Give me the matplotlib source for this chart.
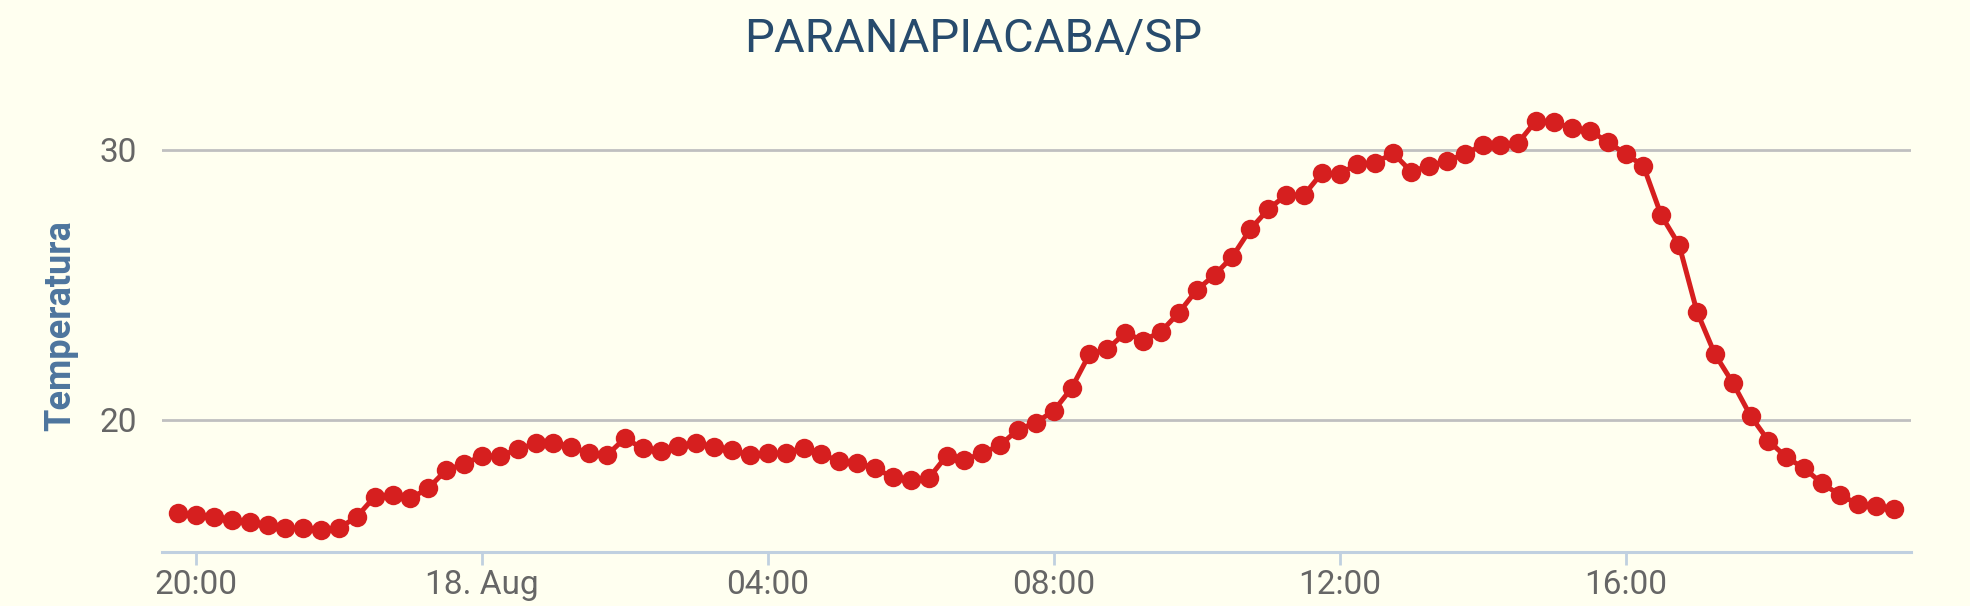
import matplotlib.pyplot as plt
import matplotlib.dates as mdates
import pandas as pd

plt.rcParams['font.family'] = ['Roboto', 'DejaVu Sans']

# leituras a cada 15 minutos, 17/08 19:45 ate 18/08 19:45
start_time = "2019-08-17 19:45"
temperatura = [
    16.54, 16.48, 16.42, 16.30, 16.22, 16.11, 15.99, 15.99, 15.93, 15.99,
    16.42, 17.16, 17.22, 17.10, 17.47, 18.15, 18.37, 18.67, 18.67, 18.91,
    19.14, 19.16, 19.01, 18.77, 18.70, 19.32, 18.95, 18.86, 19.04, 19.16,
    18.99, 18.89, 18.70, 18.77, 18.77, 18.98, 18.74, 18.47, 18.42, 18.21,
    17.88, 17.78, 17.84, 18.67, 18.52, 18.77, 19.07, 19.64, 19.90, 20.34,
    21.18, 22.44, 22.62, 23.23, 22.94, 23.27, 23.97, 24.81, 25.37, 26.05,
    27.06, 27.80, 28.33, 28.33, 29.14, 29.11, 29.48, 29.53, 29.88, 29.20,
    29.41, 29.60, 29.84, 30.19, 30.19, 30.27, 31.09, 31.04, 30.80, 30.70,
    30.31, 29.85, 29.41, 27.58, 26.48, 24.01, 22.44, 21.38, 20.15, 19.23,
    18.62, 18.21, 17.65, 17.22, 16.89, 16.81, 16.69,
]
y_ticks = [20, 30]

horas = pd.date_range(start_time, periods=len(temperatura), freq="15min")

bg = "#fffff0"
fig = plt.figure(figsize=(19.7, 6.06), dpi=100, facecolor=bg)
ax = fig.add_axes([162 / 1970, 54 / 606, 1749 / 1970, 452 / 606], facecolor=bg)

ax.plot(horas, temperatura, color="#d61f1f", linewidth=3.6, marker="o",
        markersize=14, markeredgewidth=0, zorder=3)

ax.set_xlim(pd.Timestamp("2019-08-17 19:31:25"), pd.Timestamp("2019-08-18 19:59:40"))
ax.set_ylim(15.11, 31.85)

ax.set_yticks(y_ticks)
ax.yaxis.grid(True, color="#c0c0c0", linewidth=2)
ax.set_axisbelow(True)
ax.tick_params(axis="y", length=0, pad=18, labelsize=24, labelcolor="#666666")

ax.xaxis.set_major_locator(mdates.HourLocator(byhour=range(0, 24, 4)))


def fmt_hora(x, pos=None):
    d = mdates.num2date(x)
    if d.hour == 0:
        return d.strftime("%d. %b")
    return d.strftime("%H:%M")


ax.xaxis.set_major_formatter(plt.FuncFormatter(fmt_hora))
ax.tick_params(axis="x", length=9.5, width=2, color="#c0d0e0", pad=3,
               labelsize=24, labelcolor="#666666")

for s in ["top", "right", "left"]:
    ax.spines[s].set_visible(False)
ax.spines["bottom"].set_color("#c0d0e0")
ax.spines["bottom"].set_linewidth(2.2)

ax.set_ylabel("Temperatura", fontsize=26, fontweight="bold", color="#4d759e")
ax.yaxis.set_label_coords(-0.048, 0.5)

fig.text(973 / 1970, 1 - 39 / 606, "PARANAPIACABA/SP", ha="center", va="center",
         fontsize=34, color="#274b6d")

plt.savefig("out.png", dpi=100, facecolor=bg)
